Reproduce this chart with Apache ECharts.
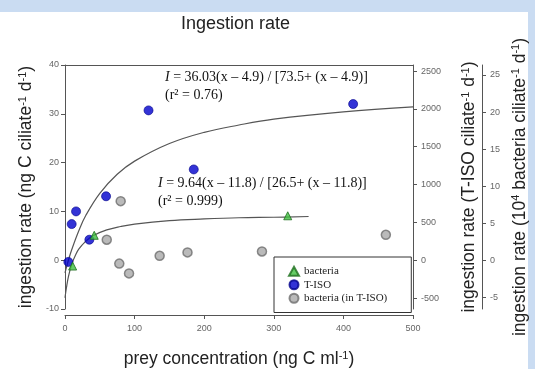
<!DOCTYPE html>
<html>
<head>
<meta charset="utf-8">
<script src="https://cdn.jsdelivr.net/npm/echarts@6/dist/echarts.min.js"></script>
<style>
  html, body { margin: 0; padding: 0; }
  body { width: 535px; height: 369px; background: #cadcf2; position: relative; overflow: hidden; }
  #paper { position: absolute; left: 0; top: 12px; width: 528px; height: 357px; background: #fff; }
  #chart { position: absolute; left: 0; top: 0; width: 535px; height: 369px; }
</style>
</head>
<body>
<div id="paper"></div>
<div id="chart"></div>
<script>
// observed points (prey conc in ng C/ml, ingestion in ng C/ciliate/d)
const bactX = [11, 42, 320];
const bactY = [-1.2, 5.1, 9.1];
const tisoX = [4.8, 9.6, 15.9, 35, 59, 120, 185, 414];
const tisoY = [-0.35, 7.4, 10.0, 4.2, 13.1, 30.7, 18.6, 32.0];
const inTisoX = [60, 78, 80, 92, 136, 176, 283, 461];
const inTisoY = [4.2, -0.7, 12.1, -2.7, 0.9, 1.6, 1.8, 5.2];

// fitted curves
const fitTisoX = [0, 2, 5, 10, 20, 30, 50, 75, 100, 150, 200, 250, 300, 400, 500];
const fitTisoY = [-2.6, -1.5, 0.05, 2.3, 6.1, 9.2, 13.7, 17.6, 20.3, 23.9, 26.2, 27.7, 28.9, 30.4, 31.4];
const fitBactX = [0, 2, 5, 10, 15, 20, 30, 40, 60, 80, 100, 150, 200, 250, 300, 350];
const fitBactY = [-7.7, -5.7, -3.3, -0.7, 1.0, 2.3, 3.9, 5.0, 6.2, 6.9, 7.4, 8.1, 8.45, 8.7, 8.8, 8.95];

const xTicks = [0, 100, 200, 300, 400, 500];
const leftTicks = [-10, 0, 10, 20, 30, 40];
const tisoTicks = [-500, 0, 500, 1000, 1500, 2000, 2500];
const bactTicks = [-5, 0, 5, 10, 15, 20, 25];

const zip = (xs, ys) => xs.map((x, i) => [x, ys[i]]);

const axisGray = "#555";
const tickLabel = { fontSize: 9, color: "#666", fontFamily: "Liberation Sans", formatter: (v) => String(v) };
const sup = { fontSize: 11, verticalAlign: "top", lineHeight: 12, fontFamily: "Liberation Sans", color: "#222" };
const nameStyle = (size) => ({
  fontSize: size,
  fontFamily: "Liberation Sans",
  color: "#222",
  rich: { sup: sup },
});
const line = { show: true, onZero: false, lineStyle: { color: axisGray } };

const chart = echarts.init(document.getElementById("chart"));
chart.setOption({
  animation: false,
  title: {
    text: "Ingestion rate",
    left: 176,
    top: 10,
    textStyle: { fontSize: 18, fontWeight: "normal", fontFamily: "Liberation Sans", color: "#222" },
  },
  grid: { left: 65, right: 122, top: 65, bottom: 60, outerBoundsMode: "none", containLabel: false },
  legend: {
    data: ["bacteria", "T-ISO", "bacteria (in T-ISO)"],
    orient: "vertical",
    left: 274,
    top: 257,
    padding: [8, 24, 8, 14],
    itemGap: 1,
    itemWidth: 10,
    itemHeight: 9,
    borderColor: "#333",
    borderWidth: 1,
    borderRadius: 0,
    backgroundColor: "#fff",
    textStyle: { fontFamily: "Liberation Serif", fontSize: 11, color: "#222", lineHeight: 12.5 },
  },
  xAxis: [
    {
      type: "value",
      min: 0,
      max: 500,
      interval: 100,
      offset: 6,
      splitLine: { show: false },
      axisLine: line,
      axisTick: { length: 4, customValues: xTicks, lineStyle: { color: axisGray } },
      axisLabel: Object.assign({ margin: 9, customValues: xTicks }, tickLabel),
      name: "prey concentration (ng C ml{sup|-1})",
      nameLocation: "middle",
      nameGap: 35,
      nameTextStyle: nameStyle(17.5),
    },
    {
      type: "value",
      position: "top",
      min: 0,
      max: 500,
      splitLine: { show: false },
      axisLine: line,
      axisTick: { show: false },
      axisLabel: { show: false },
    },
  ],
  yAxis: [
    {
      type: "value",
      min: -10,
      max: 40,
      interval: 10,
      splitLine: { show: false },
      axisLine: line,
      axisTick: { show: true, length: 4, customValues: leftTicks, lineStyle: { color: axisGray } },
      axisLabel: Object.assign({ margin: 6, customValues: leftTicks }, tickLabel),
      name: "ingestion rate (ng C ciliate{sup|-1} d{sup|-1})",
      nameLocation: "middle",
      nameGap: 30,
      nameTextStyle: nameStyle(17.5),
    },
    {
      type: "value",
      position: "right",
      min: -645,
      max: 2580,
      splitLine: { show: false },
      axisLine: line,
      axisTick: { show: true, length: 4, customValues: tisoTicks, lineStyle: { color: axisGray } },
      axisLabel: Object.assign({ margin: 8, customValues: tisoTicks }, tickLabel),
      name: "ingestion rate (T-ISO ciliate{sup|-1} d{sup|-1})",
      nameLocation: "middle",
      nameRotate: 90,
      nameGap: 47,
      nameTextStyle: nameStyle(17.5),
    },
    {
      type: "value",
      position: "right",
      offset: 69,
      min: -6.6,
      max: 26.35,
      splitLine: { show: false },
      axisLine: line,
      axisTick: { show: true, length: 4, customValues: bactTicks, lineStyle: { color: axisGray } },
      axisLabel: Object.assign({ margin: 8, customValues: bactTicks }, tickLabel),
      name: "ingestion rate (10{sup|4} bacteria ciliate{sup|-1} d{sup|-1})",
      nameLocation: "middle",
      nameRotate: 90,
      nameGap: 28,
      nameTextStyle: nameStyle(17.5),
    },
  ],
  graphic: [
    {
      type: "text",
      left: 165,
      top: 68,
      style: {
        text: "{i|I} = 36.03(x – 4.9) / [73.5+ (x – 4.9)]\n(r² = 0.76)",
        font: "14px 'Liberation Serif'",
        fill: "#111",
        lineHeight: 18,
        rich: { i: { fontStyle: "italic", fontFamily: "Liberation Serif", fontSize: 14 } },
      },
    },
    {
      type: "text",
      left: 158,
      top: 174,
      style: {
        text: "{i|I} = 9.64(x – 11.8) / [26.5+ (x – 11.8)]\n(r² = 0.999)",
        font: "14px 'Liberation Serif'",
        fill: "#111",
        lineHeight: 18,
        rich: { i: { fontStyle: "italic", fontFamily: "Liberation Serif", fontSize: 14 } },
      },
    },
  ],
  series: [
    {
      name: "fit T-ISO",
      type: "line",
      data: zip(fitTisoX, fitTisoY),
      smooth: 0.4,
      showSymbol: false,
      lineStyle: { color: "#555", width: 1.2 },
      z: 1,
    },
    {
      name: "fit bacteria",
      type: "line",
      data: zip(fitBactX, fitBactY),
      smooth: 0.4,
      showSymbol: false,
      lineStyle: { color: "#555", width: 1.2 },
      z: 1,
    },
    {
      name: "bacteria (in T-ISO)",
      type: "scatter",
      data: zip(inTisoX, inTisoY),
      symbol: "circle",
      symbolSize: 9,
      itemStyle: { color: "#a9a9a9", borderColor: "#6e6e6e", borderWidth: 1.5 },
    },
    {
      name: "T-ISO",
      type: "scatter",
      data: zip(tisoX, tisoY),
      symbol: "circle",
      symbolSize: 9,
      itemStyle: { color: "#0000cc", borderColor: "#00008a", borderWidth: 0.8 },
    },
    {
      name: "bacteria",
      type: "scatter",
      data: zip(bactX, bactY),
      symbol: "triangle",
      symbolSize: 8,
      itemStyle: { color: "#3fbf3f", borderColor: "#1d6e1d", borderWidth: 1 },
    },
  ],
});
</script>
</body>
</html>
